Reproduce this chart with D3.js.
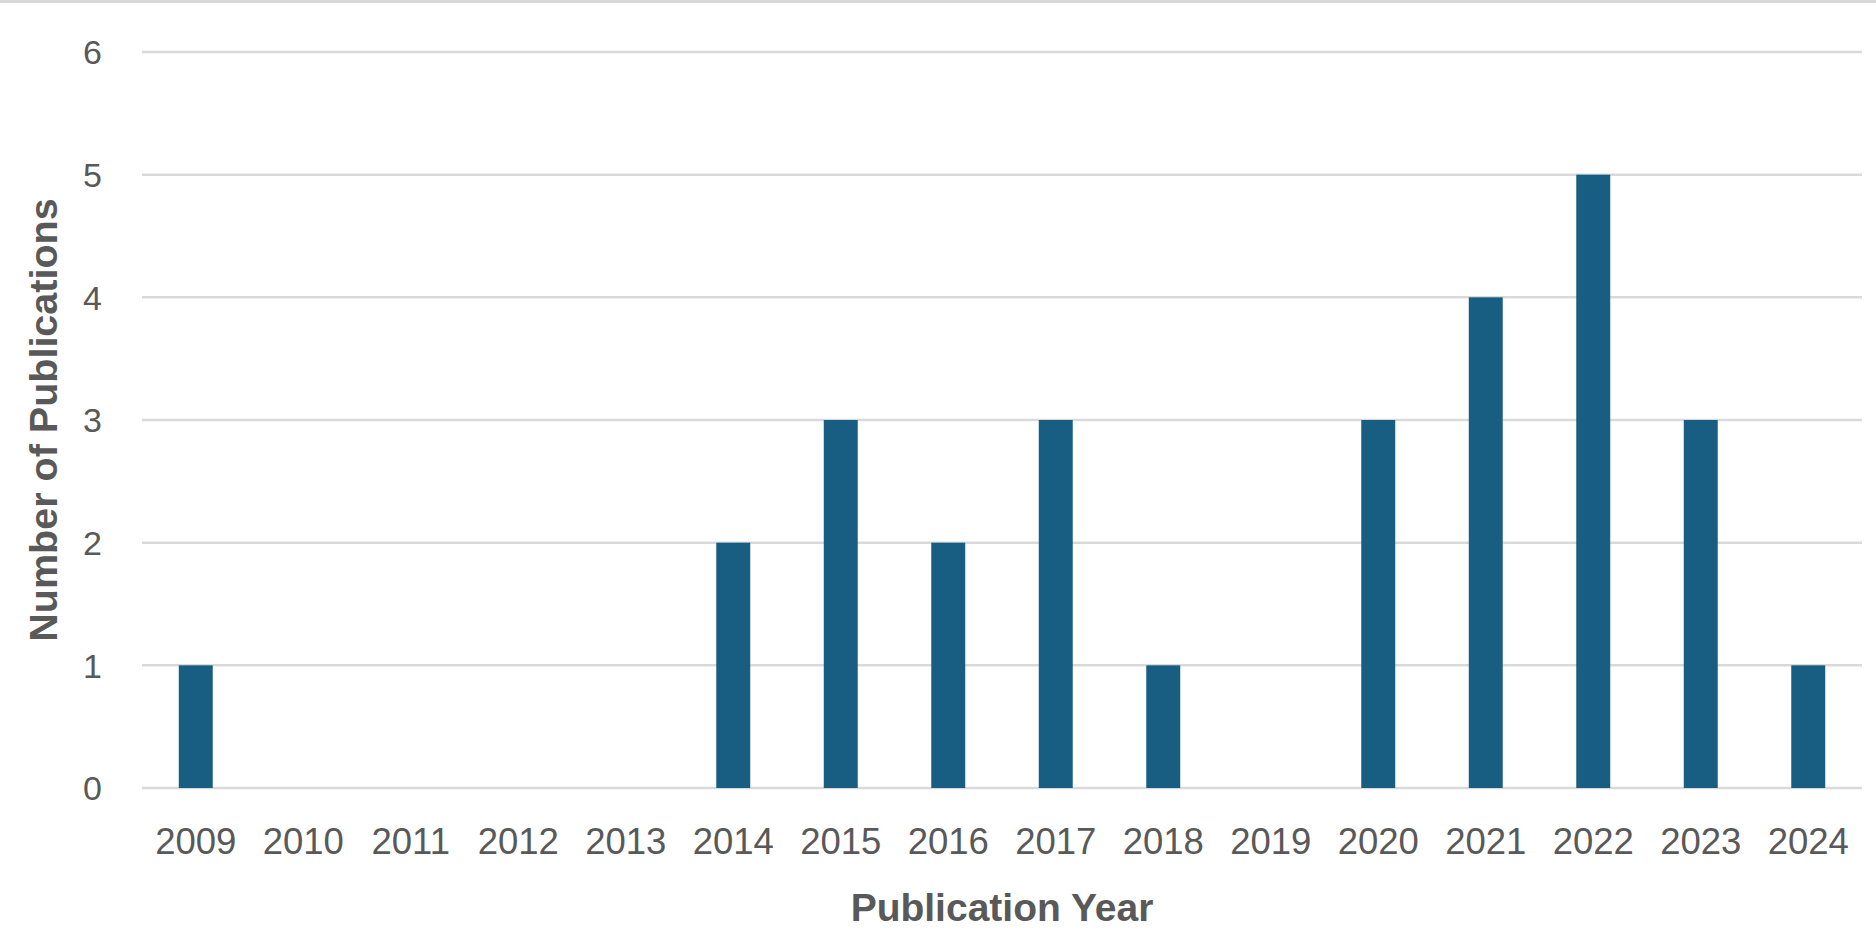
<!DOCTYPE html>
<html>
<head>
<meta charset="utf-8">
<script src="https://cdn.jsdelivr.net/npm/d3@7"></script>
<style>
  html, body { margin: 0; padding: 0; background: #ffffff; }
  svg { display: block; }
</style>
</head>
<body>
<svg id="chart" width="1876" height="944"></svg>
<script>
const years = ["2009","2010","2011","2012","2013","2014","2015","2016","2017","2018","2019","2020","2021","2022","2023","2024"];
const publications = [1,0,0,0,0,2,3,2,3,1,0,3,4,5,3,1];
const yTicks = [0,1,2,3,4,5,6];
const xTitle = "Publication Year";
const yTitle = "Number of Publications";

const W = 1876, H = 944;
const margin = {left: 142, right: 14, top: 52, bottom: 156};
const svg = d3.select("#chart");
const textColor = "#595959";
const gridColor = "#d9d9d9";
const barColor = "#175e82";

// top border
svg.append("rect").attr("x", 0).attr("y", 0).attr("width", W).attr("height", 3).attr("fill", gridColor);

const x = d3.scaleBand().domain(years).range([margin.left, W - margin.right]).paddingInner(0.684).paddingOuter(0.342);
const y = d3.scaleLinear().domain([0, 6]).range([H - margin.bottom, margin.top]);

// gridlines
svg.append("g").selectAll("line").data(yTicks).join("line")
  .attr("x1", margin.left).attr("x2", W - margin.right)
  .attr("y1", d => y(d)).attr("y2", d => y(d))
  .attr("stroke", gridColor).attr("stroke-width", 2.5);

// bars
svg.append("g").selectAll("rect").data(years).join("rect")
  .attr("x", d => x(d))
  .attr("width", x.bandwidth())
  .attr("y", (d, i) => y(publications[i]))
  .attr("height", (d, i) => y(0) - y(publications[i]))
  .attr("fill", barColor);

// y axis
const yAxis = d3.axisLeft(y).tickValues(yTicks).tickFormat(d3.format("d")).tickSize(0).tickPadding(0);
const gy = svg.append("g").attr("transform", `translate(102,0)`).call(yAxis);
gy.select(".domain").remove();
gy.selectAll("text").attr("font-family", "Liberation Sans, Arial, sans-serif")
  .attr("font-size", 34).attr("fill", textColor).attr("dy", "0.35em");

// x axis
const xAxis = d3.axisBottom(x).tickSize(0).tickPadding(0);
const gx = svg.append("g").attr("transform", `translate(0,${y(0)})`).call(xAxis);
gx.select(".domain").remove();
gx.selectAll("text").attr("font-family", "Liberation Sans, Arial, sans-serif")
  .attr("font-size", 36.5).attr("fill", textColor).attr("dy", null).attr("y", 66);

// axis titles
svg.append("text")
  .attr("x", (margin.left + W - margin.right) / 2).attr("y", 921)
  .attr("text-anchor", "middle")
  .attr("font-family", "Liberation Sans, Arial, sans-serif")
  .attr("font-weight", "bold").attr("font-size", 39).attr("fill", textColor)
  .text(xTitle);

svg.append("text")
  .attr("transform", `translate(57,${(y(0) + y(6)) / 2}) rotate(-90)`)
  .attr("text-anchor", "middle")
  .attr("font-family", "Liberation Sans, Arial, sans-serif")
  .attr("font-weight", "bold").attr("font-size", 39.5).attr("fill", textColor)
  .text(yTitle);
</script>
</body>
</html>
